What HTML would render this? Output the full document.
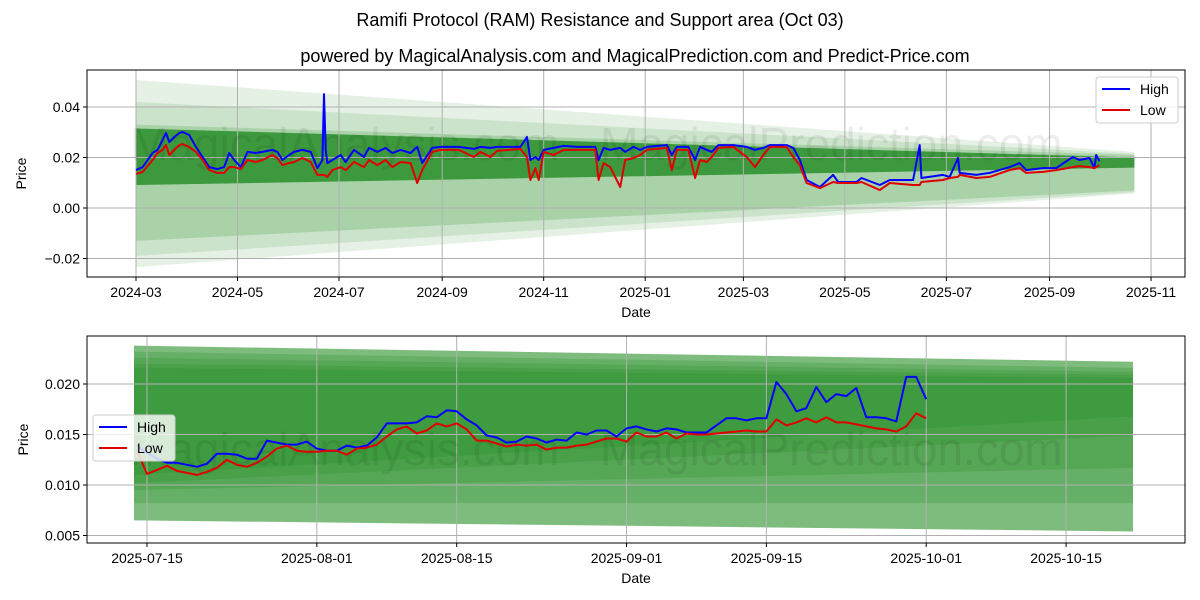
<!DOCTYPE html>
<html><head><meta charset="utf-8"><style>
html,body{margin:0;padding:0;background:#fff;}
svg{display:block;font-family:"Liberation Sans","DejaVu Sans",sans-serif;}
</style></head><body>
<svg id="fig" width="1200" height="600" viewBox="0 0 1200 600">
<rect width="1200" height="600" fill="#fff"/>
<text x="600" y="26" text-anchor="middle" font-size="18">Ramifi Protocol (RAM) Resistance and Support area (Oct 03)</text>
<text x="635" y="62" text-anchor="middle" font-size="18">powered by MagicalAnalysis.com and MagicalPrediction.com and Predict-Price.com</text>
<g id="topPanel"></g>
<g id="botPanel"></g>
</svg>
<script>
// ---- top chart data (day offset from 2024-03-01, high, low) ----
const topDays = [0,4,10,13,16,18,20,23,26,28,32,36,40,44,49,53,56,59,63,67,72,76,82,85,88,92,95,100,105,109,112,113,114,115,118,123,126,131,137,140,145,150,154,159,165,169,172,178,183,194,203,207,213,217,231,235,237,240,242,245,251,257,265,276,278,281,285,291,294,299,303,307,319,322,325,332,336,339,343,346,350,359,367,372,377,381,391,395,399,403,411,419,422,433,436,447,453,467,471,472,485,489,494,495,505,513,525,531,535,545,553,563,567,573,576,577,579];
const topHigh = [0.0150,0.0162,0.0218,0.0230,0.0269,0.0297,0.0261,0.0281,0.0297,0.0301,0.0289,0.0242,0.0202,0.0162,0.0154,0.0162,0.0218,0.0190,0.0162,0.0222,0.0218,0.0222,0.0230,0.0222,0.0190,0.0210,0.0222,0.0230,0.0222,0.0158,0.0190,0.0451,0.0230,0.0178,0.0190,0.0210,0.0182,0.0230,0.0202,0.0238,0.0222,0.0238,0.0218,0.0230,0.0218,0.0242,0.0178,0.0238,0.0242,0.0242,0.0234,0.0242,0.0238,0.0242,0.0242,0.0281,0.0190,0.0202,0.0190,0.0230,0.0238,0.0246,0.0242,0.0242,0.0190,0.0238,0.0230,0.0238,0.0222,0.0242,0.0230,0.0242,0.0249,0.0210,0.0242,0.0242,0.0190,0.0242,0.0230,0.0222,0.0249,0.0249,0.0242,0.0230,0.0238,0.0249,0.0249,0.0238,0.0190,0.0111,0.0083,0.0131,0.0103,0.0103,0.0119,0.0091,0.0111,0.0111,0.0249,0.0119,0.0131,0.0123,0.0198,0.0139,0.0131,0.0139,0.0162,0.0178,0.0150,0.0158,0.0158,0.0202,0.0190,0.0198,0.0158,0.0210,0.0186];
const topLow = [0.0135,0.0143,0.0190,0.0218,0.0230,0.0249,0.0210,0.0230,0.0249,0.0253,0.0242,0.0222,0.0190,0.0150,0.0139,0.0139,0.0162,0.0162,0.0154,0.0190,0.0182,0.0190,0.0210,0.0198,0.0170,0.0178,0.0182,0.0198,0.0182,0.0131,0.0131,0.0131,0.0127,0.0123,0.0150,0.0162,0.0150,0.0182,0.0162,0.0190,0.0170,0.0190,0.0162,0.0182,0.0178,0.0099,0.0150,0.0222,0.0230,0.0230,0.0202,0.0222,0.0202,0.0226,0.0234,0.0202,0.0111,0.0158,0.0111,0.0222,0.0210,0.0230,0.0230,0.0230,0.0111,0.0178,0.0162,0.0083,0.0190,0.0198,0.0210,0.0230,0.0238,0.0150,0.0230,0.0230,0.0119,0.0190,0.0182,0.0202,0.0238,0.0242,0.0202,0.0162,0.0210,0.0242,0.0242,0.0202,0.0170,0.0099,0.0079,0.0103,0.0099,0.0099,0.0103,0.0071,0.0099,0.0091,0.0091,0.0103,0.0111,0.0119,0.0123,0.0131,0.0119,0.0123,0.0150,0.0158,0.0139,0.0143,0.0150,0.0162,0.0166,0.0162,0.0158,0.0162,0.0170];
const topTickDays = [0,61,122,184,245,306,365,426,487,549,610];
const topTickLabels = ["2024-03","2024-05","2024-07","2024-09","2024-11","2025-01","2025-03","2025-05","2025-07","2025-09","2025-11"];
const topYTicks = [-0.02,0.00,0.02,0.04];
const topYLabels = ["\u22120.02","0.00","0.02","0.04"];
const topBandTops = [0.0507,0.042,0.033,0.0315];
const topBandBots = [-0.0234,-0.019,-0.013,0.0091];
const topBandEndTops = [0.0222,0.0215,0.021,0.0200];
const topBandEndBots = [0.0058,0.0063,0.007,0.0160];
const topBandStartDay = 0, topBandEndDay = 600;

// ---- bottom chart data (daily from 2025-07-14) ----
const botStartDay = -1;
const botHigh = [0.0139,0.0132,0.0126,0.0122,0.0122,0.0120,0.0118,0.0121,0.0131,0.0131,0.0130,0.0126,0.0126,0.0144,0.0142,0.0140,0.0140,0.0143,0.0136,0.0134,0.0134,0.0139,0.0137,0.0139,0.0147,0.0161,0.0161,0.0161,0.0162,0.0168,0.0167,0.0174,0.0173,0.0165,0.0159,0.0149,0.0147,0.0142,0.0143,0.0148,0.0146,0.0142,0.0145,0.0144,0.0152,0.0150,0.0154,0.0154,0.0148,0.0156,0.0158,0.0155,0.0153,0.0156,0.0155,0.0152,0.0152,0.0152,0.0159,0.0166,0.0166,0.0164,0.0166,0.0166,0.0202,0.0190,0.0173,0.0176,0.0197,0.0182,0.0190,0.0188,0.0196,0.0167,0.0167,0.0166,0.0163,0.0207,0.0207,0.0185];
const botLow = [0.0134,0.0111,0.0115,0.0119,0.0114,0.0112,0.0110,0.0113,0.0117,0.0125,0.0120,0.0118,0.0122,0.0128,0.0136,0.0139,0.0134,0.0133,0.0133,0.0134,0.0134,0.0130,0.0136,0.0137,0.0140,0.0148,0.0155,0.0158,0.0151,0.0154,0.0161,0.0158,0.0161,0.0155,0.0144,0.0144,0.0141,0.0138,0.0140,0.0139,0.0140,0.0135,0.0137,0.0137,0.0139,0.0140,0.0143,0.0146,0.0146,0.0143,0.0152,0.0148,0.0148,0.0152,0.0146,0.0151,0.0150,0.0150,0.0151,0.0152,0.0153,0.0154,0.0153,0.0153,0.0165,0.0159,0.0162,0.0166,0.0162,0.0167,0.0162,0.0162,0.0160,0.0158,0.0156,0.0155,0.0153,0.0158,0.0171,0.0166];
const botTickDays = [0,17,31,48,62,78,92];
const botTickLabels = ["2025-07-15","2025-08-01","2025-08-15","2025-09-01","2025-09-15","2025-10-01","2025-10-15"];
const botYTicks = [0.005,0.010,0.015,0.020];
const botYLabels = ["0.005","0.010","0.015","0.020"];
const botBandTops = [0.0238,0.0232,0.0226,0.0220,0.0216];
const botBandBots = [0.0065,0.0082,0.0095,0.0102,0.0110];
const botBandEndTops = [0.0222,0.0216,0.0212,0.0209,0.0206];
const botBandEndBots = [0.0054,0.0082,0.0117,0.0149,0.0168];
const botBandStartDay = -1.3, botBandEndDay = 98.7;

const NS = "http://www.w3.org/2000/svg";
function mk(parent, tag, attrs){const e=document.createElementNS(NS,tag);for(const k in attrs)e.setAttribute(k,attrs[k]);parent.appendChild(e);return e;}

function panel(g, box, xs, ys, cfg){
  const {x0,y0,x1,y1}=box;
  const cid=cfg.id+'clip';
  const defs=mk(g,'defs',{});const cp=mk(defs,'clipPath',{id:cid});mk(cp,'rect',{x:x0,y:y0,width:x1-x0,height:y1-y0});
  const inner=mk(g,'g',{'clip-path':'url(#'+cid+')'});
  for(let i=0;i<cfg.bTop.length;i++){
    const xa=xs(cfg.bStart), xb=xs(cfg.bEnd);
    const p=mk(inner,'polygon',{points:`${xa},${ys(cfg.bTop[i])} ${xb},${ys(cfg.bEndTop[i])} ${xb},${ys(cfg.bEndBot[i])} ${xa},${ys(cfg.bBot[i])}`,fill:cfg.bandColor,'fill-opacity':cfg.bandOp[i]});
    
    
  }
  cfg.xt.forEach(d=>{const l=mk(inner,'line',{x1:xs(d),x2:xs(d),y1:y0,y2:y1,stroke:'#b0b0b0','stroke-width':1});});
  cfg.yt.forEach(v=>{const l=mk(inner,'line',{x1:x0,x2:x1,y1:ys(v),y2:ys(v),stroke:'#b0b0b0','stroke-width':1});});
  cfg.wm.forEach(w=>{const t=mk(inner,'text',{x:w[0],y:w[1],'font-size':46,fill:'#000','fill-opacity':0.07});t.textContent=w[2];});
  const hp=cfg.days.map((d,i)=>`${xs(d).toFixed(1)},${ys(cfg.high[i]).toFixed(1)}`).join(' ');
  const lp=cfg.days.map((d,i)=>`${xs(d).toFixed(1)},${ys(cfg.low[i]).toFixed(1)}`).join(' ');
  const hl=mk(inner,'polyline',{points:hp,fill:'none',stroke:'#0000ff','stroke-width':2,'stroke-linejoin':'round'});
  
  
  const ll=mk(inner,'polyline',{points:lp,fill:'none',stroke:'#e00000','stroke-width':2,'stroke-linejoin':'round'});
  
  
  const fr=mk(g,'rect',{x:x0,y:y0,width:x1-x0,height:y1-y0,fill:'none',stroke:'#000','stroke-width':1});
  
  
  cfg.xt.forEach((d,i)=>{mk(g,'line',{x1:xs(d),x2:xs(d),y1:y1,y2:y1+4,stroke:'#000'});const t=mk(g,'text',{x:xs(d),y:y1+20,'text-anchor':'middle','font-size':14});t.textContent=cfg.xl[i];});
  cfg.yt.forEach((v,i)=>{mk(g,'line',{x1:x0-4,x2:x0,y1:ys(v),y2:ys(v),stroke:'#000'});const t=mk(g,'text',{x:x0-7,y:ys(v)+5,'text-anchor':'end','font-size':14});t.textContent=cfg.yl[i];});
  const xa=mk(g,'text',{x:(x0+x1)/2,y:y1+40,'text-anchor':'middle','font-size':14});xa.textContent='Date';
  
  
  const ya=mk(g,'text',{x:0,y:0,transform:`translate(${cfg.yaX},${(y0+y1)/2}) rotate(-90)`,'text-anchor':'middle','font-size':14});ya.textContent='Price';
  
  
  const lg=mk(g,'g',{});
  
  
  const L=cfg.leg;
  mk(lg,'rect',{x:L[0],y:L[1],width:82,height:46,rx:3,fill:'#fff','fill-opacity':0.8,stroke:'#ccc'});
  mk(lg,'line',{x1:L[0]+6,x2:L[0]+34,y1:L[1]+12,y2:L[1]+12,stroke:'#0000ff','stroke-width':2});
  mk(lg,'line',{x1:L[0]+6,x2:L[0]+34,y1:L[1]+33,y2:L[1]+33,stroke:'#e00000','stroke-width':2});
  const t1=mk(lg,'text',{x:L[0]+44,y:L[1]+17,'font-size':14});t1.textContent='High';
  
  
  const t2=mk(lg,'text',{x:L[0]+44,y:L[1]+38,'font-size':14});t2.textContent='Low';
  
  
}

const topG=document.getElementById('topPanel');
panel(topG,{x0:87,y0:70,x1:1185,y1:277},d=>136+d*1.664,v=>208-v*2525,{
  id:'t',days:topDays,high:topHigh,low:topLow,xt:topTickDays,xl:topTickLabels,yt:topYTicks,yl:topYLabels,
  bTop:topBandTops,bBot:topBandBots,bEndTop:topBandEndTops,bEndBot:topBandEndBots,bStart:topBandStartDay,bEnd:topBandEndDay,
  bandColor:'#2a8f2a',bandOp:[0.12,0.14,0.2,0.85],yaX:26,leg:[1096,77],
  wm:[[130,160,'MagicalAnalysis.com'],[600,160,'MagicalPrediction.com'],[130,315,'MagicalAnalysis.com'],[600,315,'MagicalPrediction.com']]
});
const botG=document.getElementById('botPanel');
const botDays=botHigh.map((_,i)=>botStartDay+i);
panel(botG,{x0:87,y0:336,x1:1185,y1:543},d=>147+d*9.99,v=>384-(v-0.020)*10100,{
  id:'b',days:botDays,high:botHigh,low:botLow,xt:botTickDays,xl:botTickLabels,yt:botYTicks,yl:botYLabels,
  bTop:botBandTops,bBot:botBandBots,bEndTop:botBandEndTops,bEndBot:botBandEndBots,bStart:botBandStartDay,bEnd:botBandEndDay,
  bandColor:'#2f932f',bandOp:[0.62,0.3,0.3,0.3,0.35],yaX:28,leg:[93,415],
  wm:[[130,465,'MagicalAnalysis.com'],[600,465,'MagicalPrediction.com']]
});
</script>
</body></html>
